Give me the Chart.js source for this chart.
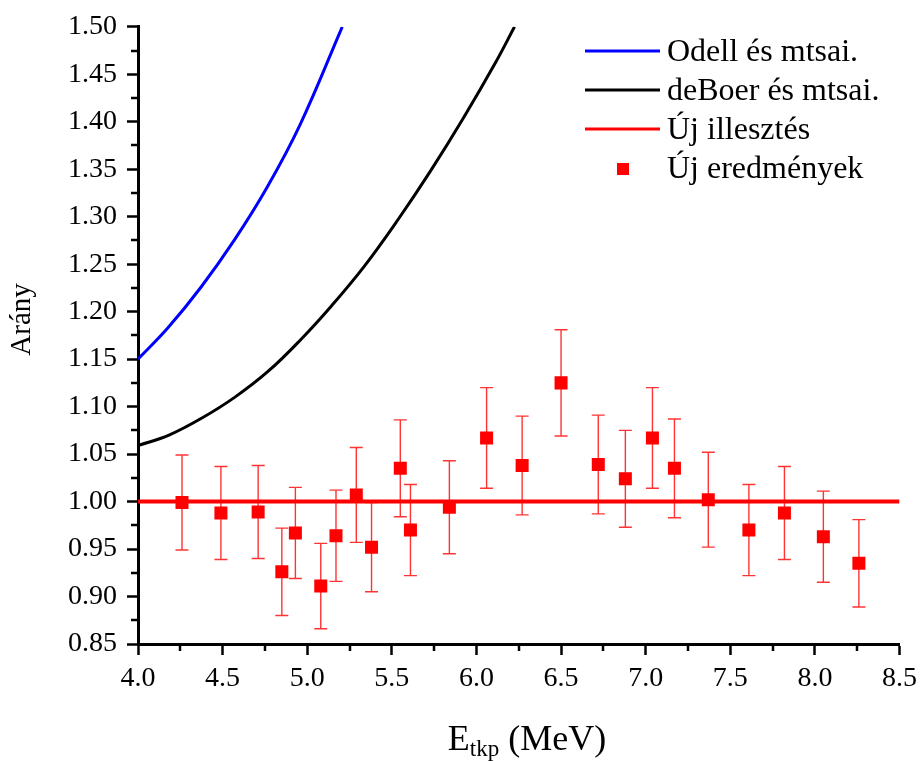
<!DOCTYPE html>
<html>
<head>
<meta charset="utf-8">
<script src="https://cdn.jsdelivr.net/npm/chart.js@4.4.1/dist/chart.umd.min.js"></script>
<style>
html,body{margin:0;padding:0;background:#fff;}
canvas{display:block;}
</style>
</head>
<body>
<canvas id="c" width="924" height="761"></canvas>
<script>
// ---- data ----
const odellE = [4.0, 4.177, 4.373, 4.568, 4.763, 4.958, 5.207];
const odellR = [1.150, 1.183, 1.226, 1.275, 1.331, 1.397, 1.500];

const deBoerE = [4.0, 4.183, 4.378, 4.573, 4.768, 4.964, 5.143, 5.338, 5.533, 5.728, 5.923, 6.118, 6.225];
const deBoerR = [1.059, 1.070, 1.088, 1.110, 1.137, 1.171, 1.206, 1.248, 1.296, 1.348, 1.404, 1.464, 1.500];

const fitE = [4.0, 8.5];
const fitR = [1.0, 1.0];

const resE   = [4.26, 4.49, 4.71, 4.85, 4.93, 5.08, 5.17, 5.29, 5.38, 5.55, 5.61, 5.84, 6.06, 6.27, 6.50, 6.72, 6.88, 7.04, 7.17, 7.37, 7.61, 7.82, 8.05, 8.26];
const resR   = [0.999, 0.988, 0.989, 0.926, 0.967, 0.911, 0.964, 1.007, 0.952, 1.035, 0.970, 0.994, 1.067, 1.038, 1.125, 1.039, 1.024, 1.067, 1.035, 1.002, 0.970, 0.988, 0.963, 0.935];
const resErr = [0.050, 0.049, 0.049, 0.046, 0.048, 0.045, 0.048, 0.050, 0.047, 0.051, 0.048, 0.049, 0.053, 0.052, 0.056, 0.052, 0.051, 0.053, 0.052, 0.050, 0.048, 0.049, 0.048, 0.046];

const xTicks = [4.0, 4.5, 5.0, 5.5, 6.0, 6.5, 7.0, 7.5, 8.0, 8.5];
const yTicks = [0.85, 0.90, 0.95, 1.00, 1.05, 1.10, 1.15, 1.20, 1.25, 1.30, 1.35, 1.40, 1.45, 1.50];
const xMinorTicks = [4.25, 4.75, 5.25, 5.75, 6.25, 6.75, 7.25, 7.75, 8.25];
const yMinorTicks = [0.875, 0.925, 0.975, 1.025, 1.075, 1.125, 1.175, 1.225, 1.275, 1.325, 1.375, 1.425, 1.475];

const legendLabels = ['Odell és mtsai.', 'deBoer és mtsai.', 'Új illesztés', 'Új eredmények'];
const xTitleMain = 'E', xTitleSub = 'tkp', xTitleUnit = ' (MeV)';
const yTitle = 'Arány';

const SERIF = '"Liberation Serif", "DejaVu Serif", serif';
const toPts = (xs, ys) => xs.map((x, i) => ({x: x, y: ys[i]}));

// ---- plugins ----
const errorBars = {
  id: 'errorBars',
  beforeDatasetsDraw(chart) {
    const ctx = chart.ctx, xs = chart.scales.x, ys = chart.scales.y;
    ctx.save();
    ctx.strokeStyle = 'rgba(255,0,0,0.8)';
    ctx.lineWidth = 1.4;
    const cap = 6.5;
    resE.forEach((e, i) => {
      const px = xs.getPixelForValue(e);
      const yt = ys.getPixelForValue(resR[i] + resErr[i]);
      const yb = ys.getPixelForValue(resR[i] - resErr[i]);
      ctx.beginPath();
      ctx.moveTo(px, yt); ctx.lineTo(px, yb);
      ctx.moveTo(px - cap, yt); ctx.lineTo(px + cap, yt);
      ctx.moveTo(px - cap, yb); ctx.lineTo(px + cap, yb);
      ctx.stroke();
    });
    ctx.restore();
  }
};

const decor = {
  id: 'decor',
  afterDraw(chart) {
    const ctx = chart.ctx, xs = chart.scales.x, ys = chart.scales.y;
    const area = chart.chartArea;
    ctx.save();
    // minor ticks
    ctx.strokeStyle = '#000';
    ctx.lineWidth = 2.5;
    ctx.beginPath();
    xMinorTicks.forEach(v => {
      const p = Math.round(xs.getPixelForValue(v));
      ctx.moveTo(p, area.bottom); ctx.lineTo(p, area.bottom + 7);
    });
    yMinorTicks.forEach(v => {
      const p = Math.round(ys.getPixelForValue(v));
      ctx.moveTo(area.left, p); ctx.lineTo(area.left - 7, p);
    });
    ctx.stroke();

    // y title
    ctx.fillStyle = '#000';
    ctx.save();
    ctx.translate(30, (area.top + area.bottom) / 2 - 16);
    ctx.rotate(-Math.PI / 2);
    ctx.font = '29px ' + SERIF;
    ctx.textAlign = 'center';
    ctx.textBaseline = 'alphabetic';
    ctx.fillText(yTitle, 0, 0);
    ctx.restore();

    // x title with subscript
    const fMain = '36px ' + SERIF, fSub = '23px ' + SERIF;
    ctx.font = fMain; const wE = ctx.measureText(xTitleMain).width;
    const wU = ctx.measureText(xTitleUnit).width;
    ctx.font = fSub; const wS = ctx.measureText(xTitleSub).width;
    const total = wE + wS + wU;
    let x0 = 527 - total / 2;
    const base = 750;
    ctx.textAlign = 'left';
    ctx.textBaseline = 'alphabetic';
    ctx.font = fMain; ctx.fillText(xTitleMain, x0, base);
    ctx.font = fSub; ctx.fillText(xTitleSub, x0 + wE, base + 6);
    ctx.font = fMain; ctx.fillText(xTitleUnit, x0 + wE + wS, base);

    // legend
    const colors = ['#0000ff', '#000000', '#ff0000'];
    const lineY = [51, 90, 129];
    ctx.lineWidth = 3;
    colors.forEach((c, i) => {
      ctx.strokeStyle = c;
      ctx.beginPath();
      ctx.moveTo(585, lineY[i]); ctx.lineTo(660, lineY[i]);
      ctx.stroke();
    });
    ctx.fillStyle = '#ff0000';
    ctx.fillRect(623 - 6, 169 - 6, 12, 12);
    ctx.fillStyle = '#000';
    ctx.font = '32px ' + SERIF;
    const textBase = [61, 100, 139, 178];
    legendLabels.forEach((t, i) => ctx.fillText(t, 667, textBase[i]));
    ctx.restore();
  }
};

// ---- chart ----
const tickFont = {family: SERIF, size: 28};
new Chart(document.getElementById('c'), {
  type: 'scatter',
  data: {
    datasets: [
      {
        label: legendLabels[3],
        data: toPts(resE, resR),
        pointStyle: 'rect',
        pointRadius: 9.2,
        pointHoverRadius: 9.2,
        backgroundColor: '#ff0000',
        borderColor: '#ff0000',
        borderWidth: 0,
        order: 0
      },
      {
        label: legendLabels[2],
        data: toPts(fitE, fitR),
        showLine: true,
        borderColor: '#ff0000',
        borderWidth: 4,
        pointRadius: 0,
        order: 1
      },
      {
        label: legendLabels[1],
        data: toPts(deBoerE, deBoerR),
        showLine: true,
        tension: 0.4,
        borderColor: '#000000',
        borderWidth: 3,
        pointRadius: 0,
        order: 2
      },
      {
        label: legendLabels[0],
        data: toPts(odellE, odellR),
        showLine: true,
        tension: 0.4,
        borderColor: '#0000ff',
        borderWidth: 3,
        pointRadius: 0,
        order: 3
      }
    ]
  },
  options: {
    responsive: false,
    animation: false,
    events: [],
    layout: {padding: {top: 25, right: 17, left: 0, bottom: 0}},
    plugins: {legend: {display: false}, tooltip: {enabled: false}},
    scales: {
      x: {
        type: 'linear',
        min: 4.0, max: 8.5,
        afterBuildTicks: s => { s.ticks = xTicks.map(v => ({value: v})); },
        afterFit: s => { s.height = 117; },
        ticks: {
          font: tickFont, color: '#000', padding: 7, maxRotation: 0,
          callback: v => Number(v).toFixed(1)
        },
        grid: {drawOnChartArea: false, drawTicks: true, tickLength: 11, tickWidth: 2.5, tickColor: '#000'},
        border: {display: true, color: '#000', width: 3}
      },
      y: {
        type: 'linear',
        min: 0.85, max: 1.5,
        afterBuildTicks: s => { s.ticks = yTicks.map(v => ({value: v})); },
        afterFit: s => { s.width = 138; },
        ticks: {
          font: tickFont, color: '#000', padding: 10,
          callback: v => Number(v).toFixed(2)
        },
        grid: {drawOnChartArea: false, drawTicks: true, tickLength: 11, tickWidth: 2.5, tickColor: '#000'},
        border: {display: true, color: '#000', width: 3}
      }
    }
  },
  plugins: [errorBars, decor]
});
</script>
</body>
</html>
